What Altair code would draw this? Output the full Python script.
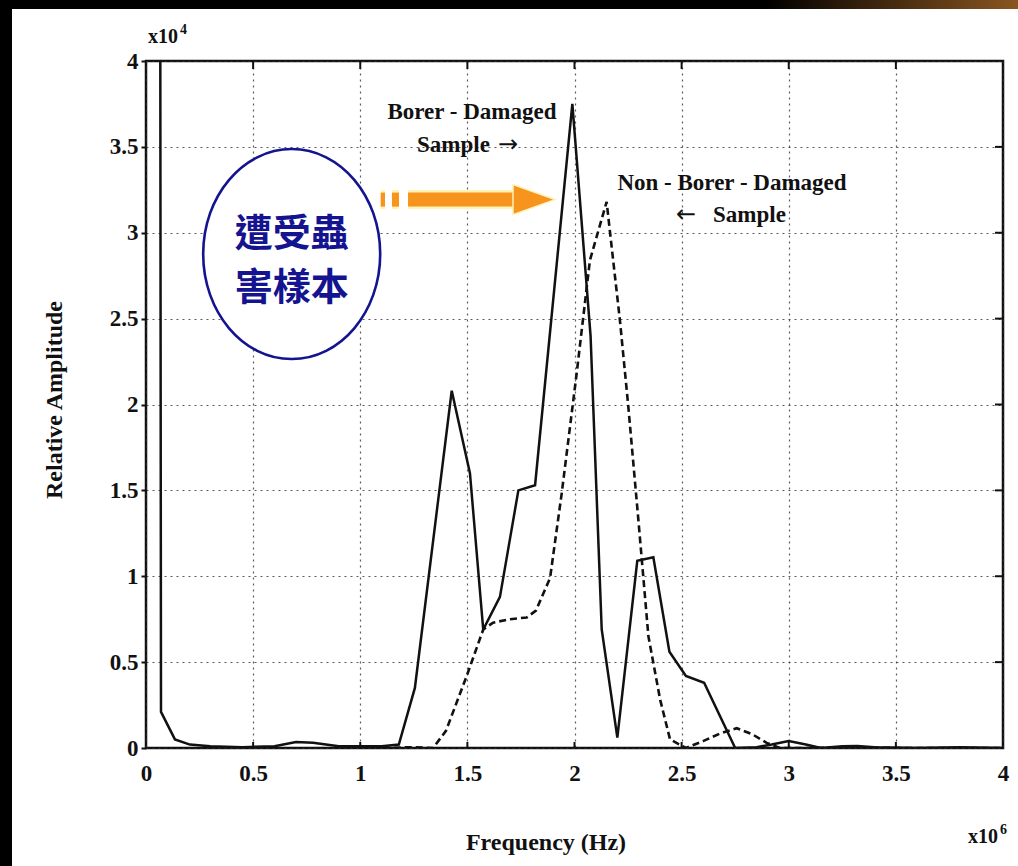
import altair as alt
import pandas as pd

# ---- data (frequency in 1e6 Hz, amplitude in 1e4) ----
borer_freq = [0.06, 0.07, 0.135, 0.205, 0.30, 0.45, 0.60, 0.70, 0.78, 0.90, 1.00, 1.10, 1.18,
              1.255, 1.427, 1.512, 1.574, 1.652, 1.738, 1.816, 1.99, 2.075, 2.127, 2.20,
              2.293, 2.368, 2.443, 2.52, 2.605, 2.75, 2.85, 2.92, 3.0, 3.08, 3.15, 3.25,
              3.32, 3.40, 3.6, 3.8, 4.0]
borer_amp = [12.0, 0.21, 0.05, 0.02, 0.01, 0.005, 0.01, 0.035, 0.03, 0.01, 0.01, 0.01, 0.02,
             0.35, 2.08, 1.60, 0.69, 0.88, 1.50, 1.53, 3.75, 2.40, 0.69, 0.06,
             1.09, 1.11, 0.56, 0.42, 0.38, 0.0, 0.005, 0.02, 0.04, 0.02, 0.0, 0.01,
             0.012, 0.005, 0.0, 0.005, 0.0]

nonborer_freq = [0.9, 1.1, 1.25, 1.34, 1.40, 1.497, 1.574, 1.62, 1.70, 1.777, 1.82, 1.886,
                 1.94, 2.01, 2.072, 2.15, 2.166, 2.212, 2.251, 2.298, 2.345, 2.40, 2.446,
                 2.52, 2.60, 2.68, 2.757, 2.83, 2.897, 2.96, 3.1, 3.3, 3.5, 3.7, 4.0]
nonborer_amp = [0.005, 0.0, 0.005, 0.0, 0.10, 0.42, 0.69, 0.73, 0.75, 0.76, 0.80, 0.99,
                1.48, 2.18, 2.84, 3.18, 3.00, 2.49, 1.99, 1.33, 0.65, 0.28, 0.05,
                0.0, 0.04, 0.085, 0.115, 0.08, 0.03, 0.0, 0.0, 0.005, 0.0, 0.0, 0.0]

tick_values = [0, 0.5, 1, 1.5, 2, 2.5, 3, 3.5, 4]
inner_ticks = [0.5, 1, 1.5, 2, 2.5, 3, 3.5]

note_lines = ["遭受蟲", "害樣本"]
note_amp = [2.987, 2.672]
note_center = {"f": 0.680, "a": 2.876}

arrow_start = [1.0955, 1.148, 1.223]
arrow_end = [1.1155, 1.181, 1.713]
arrow_level = 3.193
arrow_head_f = 1.811

W, H = 857, 687
SERIF = "Liberation Serif"
INK = "#111111"
NAVY = "#141490"
ORANGE = "#f7941d"

xs = alt.Scale(domain=[0, 4], nice=False, zero=False)
ys = alt.Scale(domain=[0, 4], nice=False, zero=False)

x_axis = alt.Axis(values=tick_values, format="~g", title=None, grid=True,
                  gridDash=[2, 4], gridColor="#333333", gridWidth=1.2, gridOpacity=0.8,
                  domain=False, ticks=False, labelFont=SERIF, labelFontWeight="bold",
                  labelFontSize=23, labelColor=INK, labelPadding=14, labelFlush=False)
y_axis = alt.Axis(values=tick_values, format="~g", title=None, grid=True,
                  gridDash=[2, 4], gridColor="#333333", gridWidth=1.2, gridOpacity=0.8,
                  domain=False, ticks=True, tickSize=5, tickColor=INK, tickWidth=2,
                  labelFont=SERIF, labelFontWeight="bold", labelFontSize=23,
                  labelColor=INK, labelPadding=3, labelFlush=False)

borer = pd.DataFrame({"f": borer_freq, "a": borer_amp})
nonborer = pd.DataFrame({"f": nonborer_freq, "a": nonborer_amp})
ticks_df = pd.DataFrame({"f": inner_ticks, "a": inner_ticks})
one = pd.DataFrame({"k": [0]})

line_b = alt.Chart(borer).mark_line(color=INK, strokeWidth=2.5, clip=True).encode(
    x=alt.X("f:Q", scale=xs, axis=x_axis),
    y=alt.Y("a:Q", scale=ys, axis=y_axis),
    order="f:Q",
)
line_n = alt.Chart(nonborer).mark_line(color=INK, strokeWidth=2.6, strokeDash=[7, 4], clip=True).encode(
    x=alt.X("f:Q", scale=xs),
    y=alt.Y("a:Q", scale=ys),
    order="f:Q",
)

top_ticks = alt.Chart(ticks_df).mark_rule(color=INK, strokeWidth=2).encode(
    x=alt.X("f:Q", scale=xs), y=alt.value(0), y2=alt.value(8))
bot_ticks = alt.Chart(ticks_df).mark_rule(color=INK, strokeWidth=2).encode(
    x=alt.X("f:Q", scale=xs), y=alt.value(H), y2=alt.value(H - 6))
right_ticks = alt.Chart(ticks_df).mark_rule(color=INK, strokeWidth=2).encode(
    y=alt.Y("a:Q", scale=ys), x=alt.value(W), x2=alt.value(W - 8))

# ellipse via custom symbol path (cubic Beziers)
rx, k = 0.843, 0.5523
ell = (f"M {rx} 0 C {rx} {k} {k*rx:.4f} 1 0 1 C {-k*rx:.4f} 1 {-rx} {k} {-rx} 0 "
       f"C {-rx} {-k} {-k*rx:.4f} -1 0 -1 C {k*rx:.4f} -1 {rx} {-k} {rx} 0 Z")
ellipse = alt.Chart(pd.DataFrame([note_center])).mark_point(
    shape=ell, size=210 * 210, filled=True, fill="white", stroke=NAVY,
    strokeWidth=2.6, opacity=1).encode(
    x=alt.X("f:Q", scale=xs), y=alt.Y("a:Q", scale=ys))

note_df = pd.DataFrame({"t": note_lines, "f": [note_center["f"]] * 2, "a": note_amp})
note = alt.Chart(note_df).mark_text(font="Noto Sans CJK TC", fontSize=38, fontWeight="bold",
                                    color=NAVY, baseline="middle", align="center").encode(
    x=alt.X("f:Q", scale=xs), y=alt.Y("a:Q", scale=ys), text="t:N")

arrow_df = pd.DataFrame({"f": arrow_start, "f2": arrow_end, "a": [arrow_level] * 3})
arrow_glow = alt.Chart(arrow_df).mark_rule(color="#fff2b3", strokeWidth=19).encode(
    x=alt.X("f:Q", scale=xs), x2="f2:Q", y=alt.Y("a:Q", scale=ys))
arrow_body = alt.Chart(arrow_df).mark_rule(color=ORANGE, strokeWidth=14).encode(
    x=alt.X("f:Q", scale=xs), x2="f2:Q", y=alt.Y("a:Q", scale=ys))
head_path = "M -1 -0.714 L 1 0 L -1 0.714 Z"
arrow_head = alt.Chart(pd.DataFrame({"f": [arrow_head_f], "a": [arrow_level]})).mark_point(
    shape=head_path, size=42 * 42, filled=True, fill=ORANGE, stroke="#fff2b3",
    strokeWidth=1.5, opacity=1).encode(
    x=alt.X("f:Q", scale=xs), y=alt.Y("a:Q", scale=ys))


def label(text, x, y, size=23, angle=0, align="center", font=SERIF, weight="bold"):
    return alt.Chart(one).mark_text(font=font, fontWeight=weight, fontSize=size, color=INK,
                                    align=align, baseline="middle", angle=angle).encode(
        x=alt.value(x), y=alt.value(y), text=alt.value(text))


texts = [
    label("Borer - Damaged", 326, 51),
    label("Sample", 271, 84, align="left"),
    label("\u2192", 352, 84, size=24, align="left", font="DejaVu Sans", weight="normal"),
    label("Non - Borer - Damaged", 586, 122),
    label("\u2190", 530, 154, size=24, align="left", font="DejaVu Sans", weight="normal"),
    label("Sample", 567, 154, align="left"),
    label("x10", 2, -24, size=20, align="left"),
    label("4", 34, -31, size=14, align="left"),
    label("x10", 822, 776, size=20, align="left"),
    label("6", 854, 769, size=14, align="left"),
    label("Frequency (Hz)", 400, 782, size=24),
    label("Relative Amplitude", -91, 339, size=24, angle=270),
]

left_band = alt.Chart(one).mark_rect(color="black").encode(
    x=alt.value(-146), x2=alt.value(-134), y=alt.value(-61), y2=alt.value(805))
top_band = alt.Chart(one).mark_rect(color="black").encode(
    x=alt.value(-146), x2=alt.value(872), y=alt.value(-61), y2=alt.value(-52))
corner = alt.Chart(one).mark_rect(
    color=alt.LinearGradient(gradient="linear",
                             stops=[alt.GradientStop(color="black", offset=0),
                                    alt.GradientStop(color="#8a5520", offset=1)],
                             x1=0, x2=1, y1=0, y2=0)).encode(
    x=alt.value(620), x2=alt.value(872), y=alt.value(-61), y2=alt.value(-52))

chart = alt.layer(
    line_n, line_b, top_ticks, bot_ticks, right_ticks,
    arrow_glow, arrow_body, arrow_head, ellipse, note,
    *texts, left_band, top_band, corner,
).properties(
    width=W, height=H,
    autosize=alt.AutoSizeParams(type="none"),
    padding={"left": 146, "top": 61, "right": 15, "bottom": 118},
    background="white",
).configure_view(stroke=INK, strokeWidth=2.5)

chart.save("out.html", embed_options={"renderer": "svg", "actions": False})
